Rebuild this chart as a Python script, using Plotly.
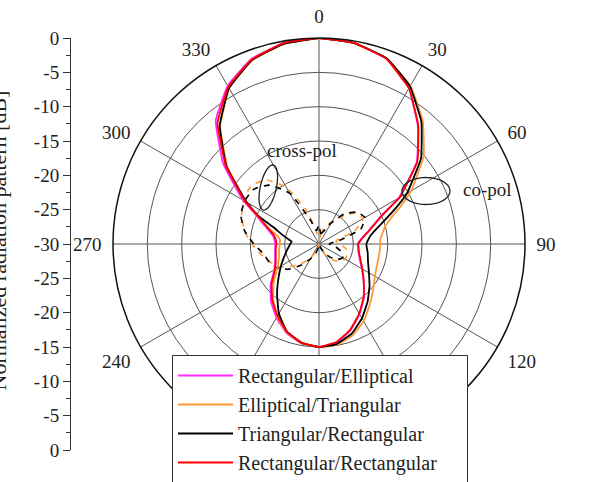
import numpy as np
import plotly.graph_objects as go

W, H = 603, 482

# ---------------- data ----------------
theta_co = [0, 10, 20, 30, 40, 50, 60, 65, 70, 75, 80, 85, 90, 95, 100, 110, 120, 130, 140, 150,
            160, 170, 180, 190, 200, 210, 220, 230, 240, 250, 260, 265, 270, 275, 280, 285, 290,
            295, 300, 310, 320, 330, 340, 350, 360]

rect_ellip = [0, -0.3, -1.3, -3.8, -7.6, -11.4, -16.6, -19.8, -21.4, -22.5, -23.4, -24.0, -24.4,
              -24.3, -24.2, -23.7, -22.8, -21.5, -19.8, -18.2, -16.6, -15.4, -15.0, -15.3, -16.2,
              -17.6, -19.1, -20.8, -22.5, -23.2, -23.5, -23.6, -23.6, -23.5, -23.2, -22.4, -21.3,
              -19.8, -17.2, -11.8, -6.6, -3.4, -1.3, -0.3, 0]

ellip_tri = [0, -0.3, -1.2, -3.4, -6.5, -10.1, -14.5, -16.8, -18.8, -20.0, -20.6, -21.0, -21.1,
             -21.1, -21.1, -21.0, -20.6, -19.7, -18.5, -17.0, -15.8, -15.1, -15.0, -15.3, -16.3,
             -17.8, -19.6, -21.4, -23.0, -23.8, -24.1, -24.2, -24.3, -24.3, -24.0, -23.0, -21.6,
             -20.0, -17.8, -12.6, -7.6, -3.8, -1.5, -0.4, 0]

tri_rect = [0, -0.3, -1.2, -3.5, -6.8, -10.6, -15.2, -17.7, -19.8, -21.3, -22.3, -22.8, -23.1,
            -23.0, -22.8, -22.4, -21.6, -20.4, -19.0, -17.5, -16.1, -15.2, -15.0, -15.4, -16.4,
            -18.3, -20.5, -22.3, -23.6, -24.6, -25.3, -25.6, -25.8, -26.0, -25.3, -24.3, -23.0,
            -20.2, -17.8, -12.4, -7.5, -3.8, -1.5, -0.4, 0]

rect_rect = [0, -0.3, -1.3, -3.8, -7.5, -11.3, -16.4, -19.6, -21.3, -22.4, -23.3, -23.9, -24.3,
             -24.2, -24.1, -23.6, -22.7, -21.5, -19.9, -18.3, -16.7, -15.5, -15.0, -15.4, -16.4,
             -17.9, -19.4, -21.0, -22.6, -23.3, -23.6, -23.7, -23.8, -23.7, -23.4, -22.7, -21.6,
             -20.1, -17.6, -12.3, -7.0, -3.6, -1.4, -0.3, 0]

theta_x = list(range(0, 361, 10))
xpol_ellip_tri = [-29.5, -28.5, -27.3, -26.3, -24.8, -23.0, -22.6, -24.5, -27.5, -27.0, -26.0,
                  -25.6, -25.6, -26.0, -27.0, -28.2, -29.3, -29.8, -30.0, -29.8, -29.0, -27.8,
                  -26.5, -25.0, -23.4, -22.4, -21.4, -20.2, -19.0, -18.0, -17.3, -17.0, -17.8,
                  -20.5, -25.0, -28.5, -29.5]
xpol_tri_rect = [-27.2, -28.5, -28.0, -26.5, -24.3, -22.8, -22.3, -23.5, -27.0, -28.5, -27.5,
                 -26.5, -26.0, -26.5, -27.5, -28.5, -29.5, -30.0, -30.0, -29.5, -28.5, -27.5,
                 -26.0, -24.3, -23.0, -22.3, -21.8, -20.5, -19.0, -17.9, -17.5, -17.6, -18.8,
                 -21.5, -26.2, -28.0, -27.2]

series_names = ["Rectangular/Elliptical", "Elliptical/Triangular",
                "Triangular/Rectangular", "Rectangular/Rectangular"]
series_colors = ["#ff2bff", "#ff9933", "#000000", "#ff0000"]

angle_ticks = list(range(0, 360, 30))
radial_ticks = [-30, -25, -20, -15, -10, -5, 0]
left_tickvals = list(range(-30, 31, 5))
left_ticktext = [str(abs(v) - 30) for v in left_tickvals]

FONT = "Liberation Serif, Times New Roman, serif"
NBSP_PAD = "\u00a0" * 5  # widens the legend box like the reference

# ---------------- figure ----------------
fig = go.Figure()

# cross-pol (dashed)
fig.add_trace(go.Scatterpolar(r=xpol_ellip_tri, theta=theta_x, mode="lines",
                              line=dict(color=series_colors[1], width=1.6, dash="6px,6px",
                                        shape="spline", smoothing=0.5),
                              showlegend=False, hoverinfo="skip"))
fig.add_trace(go.Scatterpolar(r=xpol_tri_rect, theta=theta_x, mode="lines",
                              line=dict(color=series_colors[2], width=1.6, dash="6px,6px",
                                        shape="spline", smoothing=0.5),
                              showlegend=False, hoverinfo="skip"))

# co-pol
for name, vals, col in zip(series_names, [rect_ellip, ellip_tri, tri_rect, rect_rect], series_colors):
    fig.add_trace(go.Scatterpolar(r=vals, theta=theta_co, mode="lines", name=name + NBSP_PAD,
                                  line=dict(color=col, width=1.8, shape="spline", smoothing=0.3)))

# dummy cartesian trace so the left axis is drawn
fig.add_trace(go.Scatter(x=[0], y=[0], mode="markers", marker=dict(opacity=0),
                         showlegend=False, hoverinfo="skip"))

# geometry (pixels)
cx, cy, R = 319, 244, 206


def px(x):
    return x / W


def py(y):
    return 1 - y / H


def ellipse_path(xc, yc, a, b, tilt_deg):
    t = np.linspace(0, 2 * np.pi, 60)
    ang = np.deg2rad(tilt_deg)
    xs = xc + a * np.cos(t) * np.cos(ang) - b * np.sin(t) * np.sin(ang)
    ys = yc + a * np.cos(t) * np.sin(ang) + b * np.sin(t) * np.cos(ang)
    pts = [f"{px(x):.5f},{py(y):.5f}" for x, y in zip(xs, ys)]
    return "M" + "L".join(pts) + "Z"


fig.update_layout(
    width=W, height=H,
    margin=dict(l=0, r=0, t=0, b=0, pad=0, autoexpand=False),
    paper_bgcolor="white", plot_bgcolor="white",
    font=dict(family=FONT, size=19, color="#222"),
    polar=dict(
        domain=dict(x=[px(cx - R), px(cx + R)], y=[py(cy + R), py(cy - R)]),
        bgcolor="white",
        angularaxis=dict(rotation=90, direction="clockwise", tickmode="array",
                         tickvals=angle_ticks, ticktext=[str(a) for a in angle_ticks],
                         showgrid=True, gridcolor="#555", gridwidth=1,
                         linecolor="#111", linewidth=1.5,
                         ticks="outside", ticklen=7, tickcolor="rgba(0,0,0,0)",
                         tickfont=dict(family=FONT, size=19, color="#222")),
        radialaxis=dict(range=[-30, 0], tickvals=radial_ticks, showticklabels=False,
                        ticks="", showline=False, gridcolor="#555", gridwidth=1),
    ),
    xaxis=dict(visible=False, domain=[px(68), px(72)], range=[-1, 1], automargin=False),
    yaxis=dict(domain=[py(cy + R), py(cy - R)], range=[-30, 30], anchor="free",
               position=px(70), side="left", automargin=False,
               tickmode="array", tickvals=left_tickvals, ticktext=left_ticktext,
               ticks="outside", ticklen=7, tickcolor="#333", showline=True,
               linecolor="#333", linewidth=1, showgrid=False, zeroline=False,
               tickfont=dict(family=FONT, size=19, color="#222"),
               minor=dict(dtick=2.5, tick0=0, ticks="outside", ticklen=4, tickcolor="#333")),
    legend=dict(x=px(172), y=py(355), xanchor="left", yanchor="top",
                bgcolor="white", bordercolor="#333", borderwidth=1,
                font=dict(family=FONT, size=20, color="#222"),
                itemwidth=55, tracegroupgap=0),
    showlegend=True,
)

fig.add_annotation(text="Normalized radiation pattern [dB]", textangle=-90,
                   x=px(-2.5), y=py(241), xref="paper", yref="paper",
                   xanchor="center", yanchor="middle", showarrow=False,
                   font=dict(family=FONT, size=22, color="#222"))
fig.add_annotation(text="cross-pol", x=px(302), y=py(150), xref="paper", yref="paper",
                   xanchor="center", yanchor="middle", showarrow=False,
                   font=dict(family=FONT, size=19, color="#222"))
fig.add_annotation(text="co-pol", x=px(487), y=py(190), xref="paper", yref="paper",
                   xanchor="center", yanchor="middle", showarrow=False,
                   font=dict(family=FONT, size=19, color="#222"))

fig.add_shape(type="path", xref="paper", yref="paper",
              path=ellipse_path(268.3, 187.5, 8, 23, 12.5), line=dict(color="#222", width=1.3))
fig.add_shape(type="path", xref="paper", yref="paper",
              path=ellipse_path(426, 191, 24, 13.5, 0), line=dict(color="#222", width=1.3))

fig.write_html("out.html")
